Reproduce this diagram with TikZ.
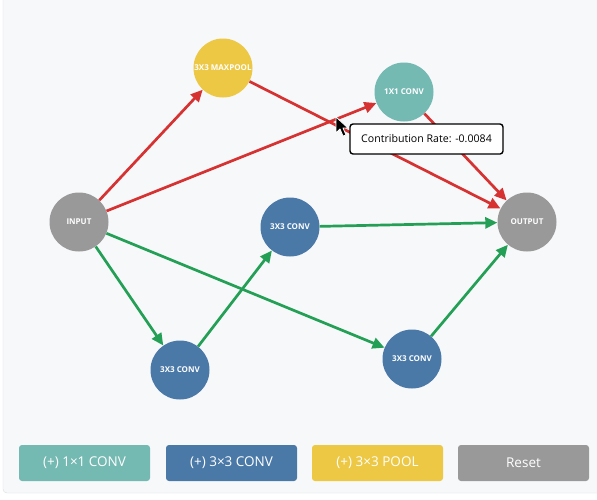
\documentclass[tikz,border=0pt]{standalone}
\usepackage{fontspec}
\setmainfont{Open Sans}
\usetikzlibrary{arrows.meta}
\definecolor{panel}{HTML}{F7F8FA}
\definecolor{rim}{HTML}{DCDEE2}
\definecolor{teal}{HTML}{74B9B2}
\definecolor{navy}{HTML}{4A79A8}
\definecolor{gold}{HTML}{EDC845}
\definecolor{stone}{HTML}{999999}
\definecolor{prune}{HTML}{D63232}
\definecolor{keep}{HTML}{23A055}

\begin{document}
\begin{tikzpicture}[x=1pt,y=-1pt,
  op/.style={circle,minimum size=59pt,inner sep=0pt,text=white,font=\fontsize{8}{9}\selectfont\bfseries},
  cut/.style={-{Triangle[length=12pt,width=11pt]},line width=2.7pt,prune},
  link/.style={-{Triangle[length=12pt,width=11pt]},line width=2.7pt,keep},
  btn/.style={rounded corners=3pt,minimum width=131pt,minimum height=36pt,inner sep=0pt,text=white,font=\fontsize{13.5}{15}\selectfont}]
\useasboundingbox (0,0) rectangle (597,499);
\fill[white] (0,0) rectangle (597,499);
\draw[rim,fill=panel,rounded corners=4pt] (3,-6) rectangle (606,493);
% operations
\node[op,fill=stone] (input) at (79,222) {INPUT};
\node[op,fill=gold] (pool) at (223,68) {3X3 MAXPOOL};
\node[op,fill=teal] (one) at (404,92) {1X1 CONV};
\node[op,fill=navy] (mid) at (290,227) {3X3 CONV};
\node[op,fill=navy] (low) at (180,370) {3X3 CONV};
\node[op,fill=navy] (right) at (412,359) {3X3 CONV};
\node[op,fill=stone] (output) at (527,222) {OUTPUT};
% pruned edges
\draw[cut] (input)--(pool); \draw[cut] (input)--(one);
\draw[cut] (pool)--(output); \draw[cut] (one)--(output);
% kept edges
\draw[link] (input)--(low); \draw[link] (low)--(mid); \draw[link] (mid)--(output);
\draw[link] (input)--(right); \draw[link] (right)--(output);
% tooltip and pointer
\node[draw=black,line width=1.4pt,fill=white,rounded corners=3pt,minimum width=153pt,minimum height=30pt,inner sep=0pt,font=\fontsize{10.6}{12}\selectfont] (tip) at (426.5,139) {Contribution Rate: -0.0084};
\draw[white,fill=black,line width=0.8pt,line join=round] (336,117)--(336,133)--(340,129)--(343,136)--(346,135)--(343,128)--(348,128)--cycle;
% buttons
\node[btn,fill=teal] (addone) at (84.5,463) {(+) 1×1 CONV};
\node[btn,fill=navy] (addconv) at (231.5,463) {(+) 3×3 CONV};
\node[btn,fill=gold] (addpool) at (377.5,463) {(+) 3×3 POOL};
\node[btn,fill=stone] (reset) at (523.5,463) {Reset};
\end{tikzpicture}
\end{document}
